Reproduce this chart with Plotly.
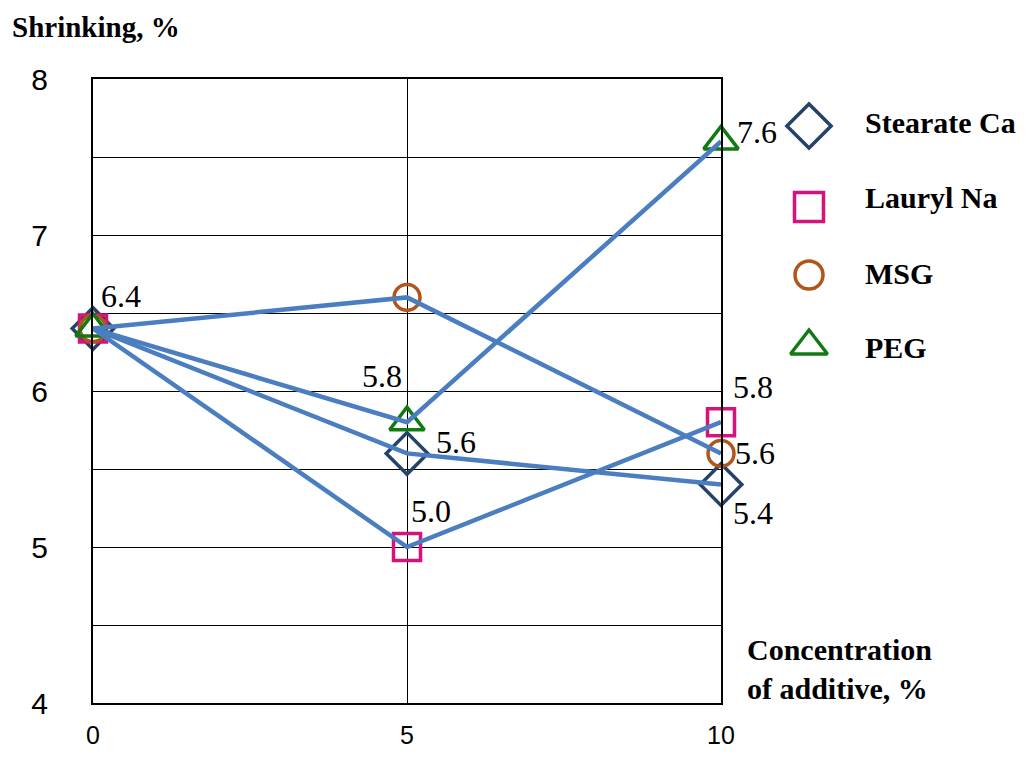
import plotly.graph_objects as go

# ---- data ----
concentration = [0, 5, 10]
series_names = ["Stearate Ca", "Lauryl Na", "MSG", "PEG"]
stearate_ca = [6.4, 5.6, 5.4]
lauryl_na = [6.4, 5.0, 5.8]
msg = [6.4, 6.6, 5.6]
peg = [6.4, 5.8, 7.6]
y_ticks = [4, 5, 6, 7, 8]
x_ticks = [0, 5, 10]

# ---- layout geometry (page pixels) ----
W, H = 1034, 758
OFF = 8                       # default page body margin
FW, FH = W - 2 * OFF, H - 2 * OFF
PX_L, PX_R, PX_T, PX_B = 93, 721, 79, 703


def fx(px):
    return (px - OFF) / FW


def fy(py):
    return 1 - (py - OFF) / FH


LINE_COLOR = "#4a7ec0"
styles = {
    "Stearate Ca": dict(symbol="diamond-open", color="#25426a", size=32),
    "Lauryl Na": dict(symbol="square-open", color="#d6137c", size=27),
    "MSG": dict(symbol="circle-open", color="#b0561c", size=26),
    "PEG": dict(symbol="triangle-up-open", color="#127a12", size=30),
}
values = {"Stearate Ca": stearate_ca, "Lauryl Na": lauryl_na, "MSG": msg, "PEG": peg}

fig = go.Figure()

# markers
for name in series_names:
    st = styles[name]
    fig.add_trace(go.Scatter(
        x=concentration, y=values[name], mode="markers", name=name,
        marker=dict(symbol=st["symbol"], size=st["size"], color=st["color"],
                    line=dict(width=3.5, color=st["color"])),
        showlegend=False, hoverinfo="skip", cliponaxis=False))

# lines (drawn over the markers, as in the reference)
for name in series_names:
    fig.add_trace(go.Scatter(
        x=concentration, y=values[name], mode="lines", name=name,
        line=dict(color=LINE_COLOR, width=4.5), showlegend=False, cliponaxis=False))

# custom legend on a separate pixel-scaled axis to the right of the plot
LEG_L = PX_R + 20
legend_px_x = 809
legend_px_y = [126, 207, 275, 346]
legend_text_y = [123, 197, 274, 347]
for name, ly in zip(series_names, legend_px_y):
    st = styles[name]
    fig.add_trace(go.Scatter(
        x=[legend_px_x], y=[ly], xaxis="x2", yaxis="y2", mode="markers",
        marker=dict(symbol=st["symbol"], size=st["size"] + 2, color=st["color"],
                    line=dict(width=3.5, color=st["color"])),
        showlegend=False, hoverinfo="skip", cliponaxis=False))

serif_b = dict(family="Liberation Serif", size=30, color="black")
serif_title = dict(family="Liberation Serif", size=29, color="black")
serif_b2 = dict(family="Liberation Serif", size=30, color="black")
serif = dict(family="Liberation Serif", size=32, color="black")

annotations = []
for name, ly in zip(series_names, legend_text_y):
    annotations.append(dict(x=fx(863), y=fy(ly), xref="paper", yref="paper",
                            text=f"<b>{name}</b>", showarrow=False, xanchor="left",
                            yanchor="middle", font=serif_b))

# data labels (x index, series, xshift, yshift)
label_spec = [
    (0, "Stearate Ca", 28, 33),
    (1, "PEG", -25, 46),
    (1, "Stearate Ca", 49, 11),
    (1, "Lauryl Na", 24, 36),
    (2, "PEG", 36, 9),
    (2, "Lauryl Na", 32, 35),
    (2, "MSG", 34, 0),
    (2, "Stearate Ca", 32, -28),
]
for idx, name, xs, ys in label_spec:
    v = values[name][idx]
    annotations.append(dict(x=concentration[idx], y=v, xref="x", yref="y",
                            text=f"{v:.1f}", showarrow=False, xshift=xs, yshift=ys,
                            font=serif))

annotations.append(dict(x=fx(10), y=fy(27), xref="paper", yref="paper",
                        text="<b>Shrinking, %</b>", showarrow=False, xanchor="left",
                        yanchor="middle", font=serif_title))
annotations.append(dict(x=fx(745), y=fy(669), xref="paper", yref="paper",
                        text="<b>Concentration<br>of additive, %</b>", showarrow=False,
                        xanchor="left", yanchor="middle", align="left", font=serif_b2))

y_tick_font = dict(family="Liberation Sans Narrow, Liberation Sans", size=30, color="black")
x_tick_font = dict(family="Liberation Sans Narrow, Liberation Sans", size=25, color="black")

fig.update_layout(
    width=FW, height=FH,
    margin=dict(l=0, r=0, t=0, b=0, autoexpand=False),
    paper_bgcolor="white", plot_bgcolor="rgba(0,0,0,0)",
    showlegend=False,
    annotations=annotations,
    xaxis=dict(domain=[fx(PX_L), fx(PX_R)], range=[0, 10], tickvals=x_ticks,
               showgrid=True, gridcolor="black", gridwidth=1.3,
               showline=True, linecolor="black", linewidth=2, mirror=True,
               zeroline=False, ticks="", tickfont=x_tick_font, ticklabelstandoff=9,
               automargin=False),
    yaxis=dict(domain=[fy(PX_B), fy(PX_T)], range=[4, 8], tickvals=y_ticks,
               showgrid=True, gridcolor="black", gridwidth=1.3,
               minor=dict(dtick=0.5, showgrid=True, gridcolor="black", gridwidth=1.3),
               showline=True, linecolor="black", linewidth=2, mirror=True,
               zeroline=False, ticks="", tickfont=y_tick_font, ticklabelstandoff=37,
               automargin=False),
    xaxis2=dict(domain=[fx(LEG_L), 1], range=[LEG_L, OFF + FW], visible=False,
                anchor="y2", automargin=False),
    yaxis2=dict(domain=[0, 1], range=[OFF + FH, OFF], visible=False, anchor="x2",
                automargin=False),
)

fig.write_html("out.html")
